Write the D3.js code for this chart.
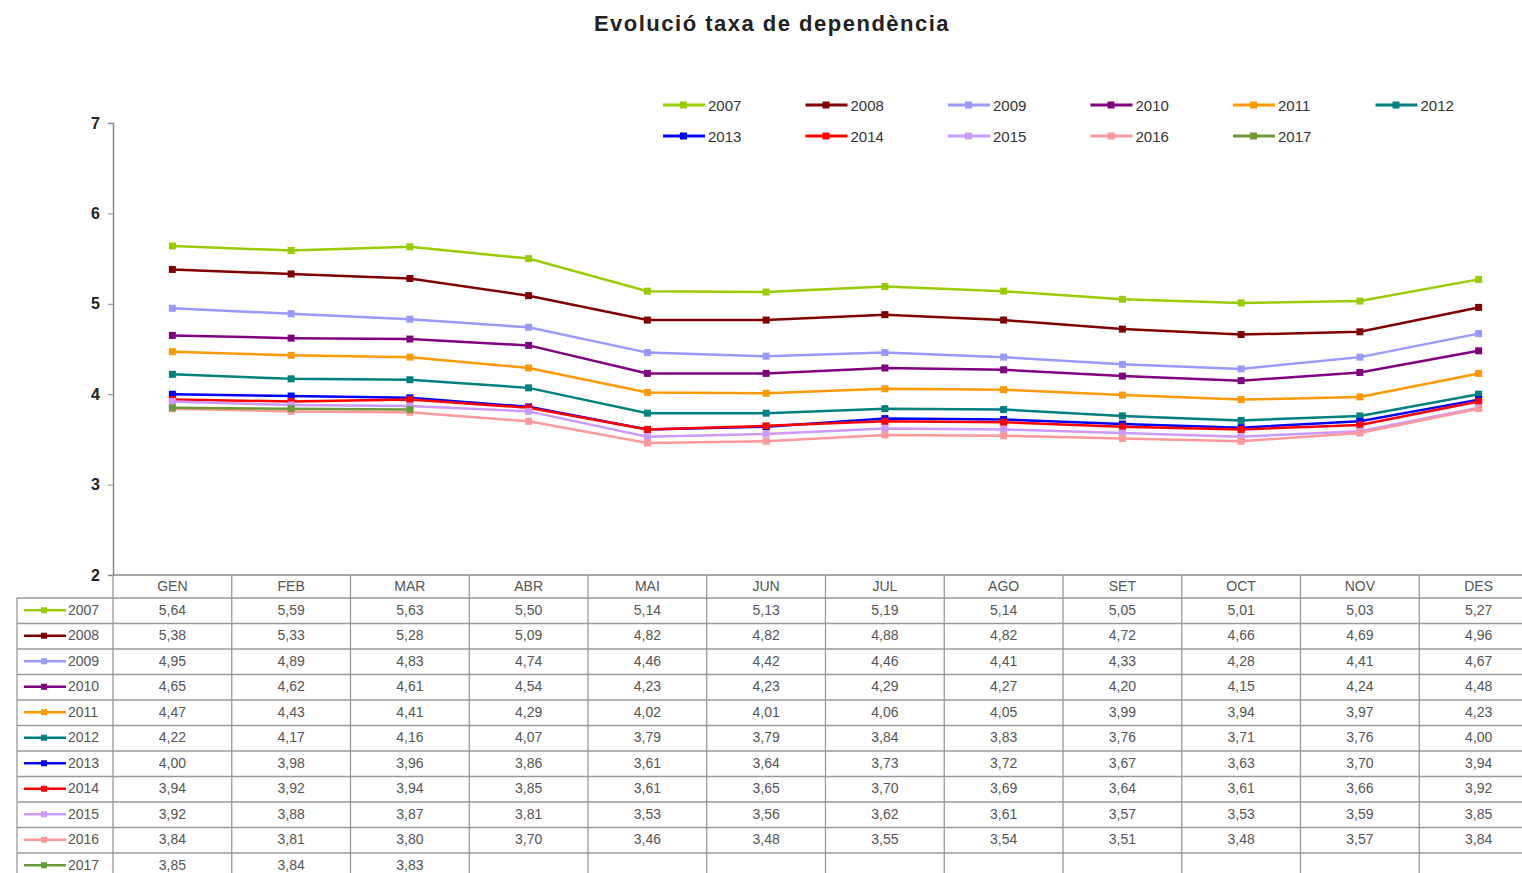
<!DOCTYPE html>
<html><head><meta charset="utf-8">
<script src="https://cdn.jsdelivr.net/npm/d3@7"></script>
<style>body{margin:0;background:#fff;overflow:hidden}svg{display:block;font-family:"Liberation Sans",Arial,sans-serif}</style>
</head><body>
<svg id="c" width="1522" height="873"></svg>
<script>
const months = ["GEN","FEB","MAR","ABR","MAI","JUN","JUL","AGO","SET","OCT","NOV","DES"];
const years = ["2007","2008","2009","2010","2011","2012","2013","2014","2015","2016","2017"];
const v2007 = [5.64,5.59,5.63,5.50,5.14,5.13,5.19,5.14,5.05,5.01,5.03,5.27];
const v2008 = [5.38,5.33,5.28,5.09,4.82,4.82,4.88,4.82,4.72,4.66,4.69,4.96];
const v2009 = [4.95,4.89,4.83,4.74,4.46,4.42,4.46,4.41,4.33,4.28,4.41,4.67];
const v2010 = [4.65,4.62,4.61,4.54,4.23,4.23,4.29,4.27,4.20,4.15,4.24,4.48];
const v2011 = [4.47,4.43,4.41,4.29,4.02,4.01,4.06,4.05,3.99,3.94,3.97,4.23];
const v2012 = [4.22,4.17,4.16,4.07,3.79,3.79,3.84,3.83,3.76,3.71,3.76,4.00];
const v2013 = [4.00,3.98,3.96,3.86,3.61,3.64,3.73,3.72,3.67,3.63,3.70,3.94];
const v2014 = [3.94,3.92,3.94,3.85,3.61,3.65,3.70,3.69,3.64,3.61,3.66,3.92];
const v2015 = [3.92,3.88,3.87,3.81,3.53,3.56,3.62,3.61,3.57,3.53,3.59,3.85];
const v2016 = [3.84,3.81,3.80,3.70,3.46,3.48,3.55,3.54,3.51,3.48,3.57,3.84];
const v2017 = [3.85,3.84,3.83];
const yTicks = [2,3,4,5,6,7];
const colors = ["#99cc00","#800000","#9999ff","#800080","#ff9900","#008080","#0000ff","#ff0000","#cc99ff","#ff9999","#6a9a3a"];
const title = "Evolució taxa de dependència";

const seriesVals = [v2007,v2008,v2009,v2010,v2011,v2012,v2013,v2014,v2015,v2016,v2017];
const series = years.map((y,i)=>({year:y,color:colors[i],values:seriesVals[i]}));

const svg = d3.select("#c");
const plotLeft = 113, plotRight = 1538, plotTop = 123, plotBottom = 575;
const x = d3.scaleBand().domain(months).range([plotLeft, plotRight]).padding(0);
const xc = m => x(m) + x.bandwidth()/2;
const y = d3.scaleLinear().domain([2,7]).range([plotBottom, plotTop]);

// title
svg.append("text").attr("x",772).attr("y",31).attr("text-anchor","middle")
  .attr("font-size",22).attr("font-weight","bold").attr("letter-spacing",1.5)
  .attr("fill","#222").text(title);

// y axis
const ya = svg.append("g").attr("transform",`translate(${plotLeft},0)`)
  .call(d3.axisLeft(y).tickValues(yTicks).tickSize(5).tickPadding(8).tickFormat(d3.format("d")));
ya.select(".domain").attr("stroke","#888").attr("stroke-width",1.5);
ya.selectAll(".tick line").attr("stroke","#888");
ya.selectAll(".tick text").attr("font-size",16).attr("font-weight","bold").attr("fill","#222")
  .attr("font-family","Liberation Sans, Arial, sans-serif");

// lines
const line = d3.line().x((d,i)=>xc(months[i])).y(d=>y(d));
series.forEach(s=>{
  svg.append("path").attr("d",line(s.values)).attr("fill","none")
    .attr("stroke",s.color).attr("stroke-width",2.5);
  svg.selectAll(null).data(s.values).enter().append("rect")
    .attr("x",(d,i)=>xc(months[i])-3.5).attr("y",d=>y(d)-3.5)
    .attr("width",7).attr("height",7).attr("fill",s.color);
});

// legend
const legX0 = 663, legDX = 142.5, legY0 = 105, legDY = 31;
series.forEach((s,i)=>{
  const col = i % 6, row = Math.floor(i/6);
  const lx = legX0 + col*legDX, ly = legY0 + row*legDY;
  const g = svg.append("g").attr("transform",`translate(${lx},${ly})`);
  g.append("line").attr("x1",0).attr("x2",42).attr("y1",0).attr("y2",0).attr("stroke",s.color).attr("stroke-width",3);
  g.append("rect").attr("x",17).attr("y",-3.5).attr("width",7).attr("height",7).attr("fill",s.color);
  g.append("text").attr("x",45).attr("y",5.5).attr("font-size",15).attr("fill","#333").text(s.year);
});

// data table
const hdrTop = plotBottom, hdrH = 23, rowH = 25.5, keyLeft = 17;
const tbl = svg.append("g");
const tableBottom = 873;
tbl.append("line").attr("x1",plotLeft).attr("x2",plotRight).attr("y1",hdrTop).attr("y2",hdrTop).attr("stroke","#888").attr("stroke-width",1.5);
for (let r=0;r<=years.length;r++){
  const yy = hdrTop + hdrH + r*rowH;
  if (yy>tableBottom) break;
  tbl.append("line").attr("x1",keyLeft).attr("x2",plotRight).attr("y1",yy).attr("y2",yy).attr("stroke","#999").attr("stroke-width",1.3);
}
months.forEach(m=>{
  tbl.append("line").attr("x1",x(m)).attr("x2",x(m)).attr("y1",hdrTop).attr("y2",tableBottom).attr("stroke","#999").attr("stroke-width",1.3);
});
tbl.append("line").attr("x1",keyLeft).attr("x2",keyLeft).attr("y1",hdrTop+hdrH).attr("y2",tableBottom).attr("stroke","#999").attr("stroke-width",1.3);
months.forEach(m=>{
  tbl.append("text").attr("x",xc(m)).attr("y",hdrTop+16).attr("text-anchor","middle")
    .attr("font-size",14).attr("fill","#555").text(m);
});
const fmt = v => d3.format(".2f")(v).replace(".",",");
series.forEach((s,r)=>{
  const cy = hdrTop + hdrH + r*rowH + rowH/2 - 0.5;
  const g = tbl.append("g").attr("transform",`translate(24,${cy})`);
  g.append("line").attr("x1",0).attr("x2",42).attr("y1",0).attr("y2",0).attr("stroke",s.color).attr("stroke-width",2.5);
  g.append("rect").attr("x",17).attr("y",-3).attr("width",6).attr("height",6).attr("fill",s.color);
  g.append("text").attr("x",44).attr("y",4.5).attr("font-size",14).attr("fill","#555").text(s.year);
  s.values.forEach((v,i)=>{
    tbl.append("text").attr("x",xc(months[i])).attr("y",cy+4.5).attr("text-anchor","middle")
      .attr("font-size",14).attr("fill","#555").text(fmt(v));
  });
});
</script>
</body></html>
